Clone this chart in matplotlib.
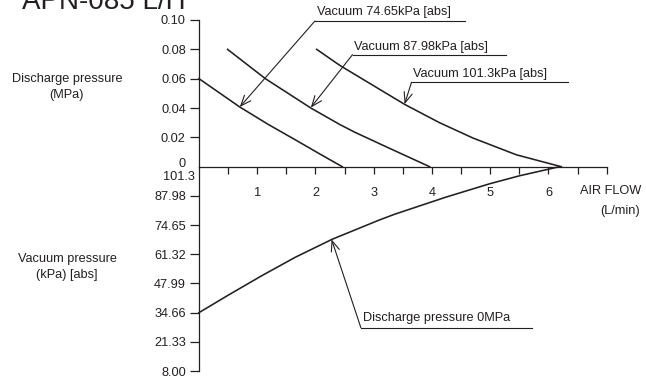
import matplotlib
matplotlib.use('Agg')
from matplotlib import pyplot as plt

plt.rcParams['font.family'] = ['Liberation Sans', 'DejaVu Sans']
plt.rcParams['font.size'] = 9.2

INK = '#231f20'

# discharge pressure (MPa) vs air flow (L/min) for each vacuum level
flow_7465 = [0.0, 0.70, 1.19, 1.65, 2.10, 2.46]
disch_7465 = [0.060, 0.0407, 0.0288, 0.0184, 0.0081, 0.0]

flow_8798 = [0.49, 1.14, 1.92, 2.42, 2.68, 3.30, 3.96]
disch_8798 = [0.080, 0.060, 0.040, 0.0287, 0.0234, 0.0120, 0.0]

flow_1013 = [2.02, 2.42, 3.53, 4.13, 4.70, 5.45, 6.22]
disch_1013 = [0.080, 0.069, 0.0425, 0.030, 0.0196, 0.0081, 0.0]

# vacuum pressure (kPa abs) vs air flow at discharge pressure 0MPa
flow_vac = [0.0, 0.50, 1.07, 1.65, 2.29, 3.10, 3.36, 4.24, 4.99, 5.51, 6.19]
vac_0mpa = [34.66, 42.6, 51.4, 59.9, 68.2, 77.0, 79.6, 87.4, 93.5, 97.2, 101.3]

disch_ticks = [0.02, 0.04, 0.06, 0.08, 0.10]
disch_labels = ['0.02', '0.04', '0.06', '0.08', '0.10']
vac_ticks = [87.98, 74.65, 61.32, 47.99, 34.66, 21.33, 8.00]
vac_labels = ['87.98', '74.65', '61.32', '47.99', '34.66', '21.33', '8.00']
flow_ticks = [0.5 * i for i in range(1, 15)]
flow_labels = [str(int(t)) if t == int(t) and t < 7 else '' for t in flow_ticks]

W, H = 646, 377
fig = plt.figure(figsize=(W / 100, H / 100), dpi=100)
ax = fig.add_axes([199 / W, 1 - 166.7 / H, 407.7 / W, (166.7 - 20) / H])
axv = fig.add_axes([199 / W, 1 - 371 / H, 407.7 / W, (371 - 166.7) / H])

line_kw = dict(color=INK, lw=1.15, clip_on=False)
ax.plot(flow_7465, disch_7465, **line_kw)
ax.plot(flow_8798, disch_8798, **line_kw)
ax.plot(flow_1013, disch_1013, **line_kw)
axv.plot(flow_vac, vac_0mpa, **line_kw)

ax.set_xlim(0, 7.0)
ax.set_ylim(0, 0.10)
axv.set_xlim(0, 7.0)
axv.set_ylim(8.00, 101.3)

for a in (ax, axv):
    a.patch.set_visible(False)
    for s in ('top', 'right'):
        a.spines[s].set_visible(False)
    a.spines['left'].set_color(INK)
    a.spines['left'].set_linewidth(0.9)
    a.tick_params(axis='y', direction='out', length=6.5, width=0.9, pad=3,
                  colors=INK, labelsize=9.2)
ax.spines['bottom'].set_color(INK)
ax.spines['bottom'].set_linewidth(0.9)
axv.spines['bottom'].set_visible(False)

ax.set_yticks(disch_ticks, disch_labels)
axv.set_yticks(vac_ticks, vac_labels)
ax.set_xticks(flow_ticks, flow_labels)
ax.tick_params(axis='x', direction='out', length=5, width=0.9, pad=9.3,
               colors=INK, labelsize=9.2)
axv.set_xticks([])

# axis-origin labels without tick marks
ax.annotate('0', xy=(0, 0), xycoords=('axes fraction', 'data'),
            xytext=(-13, 3), textcoords='offset pixels',
            ha='right', va='center', color=INK)
axv.annotate('101.3', xy=(0, 101.3), xycoords=('axes fraction', 'data'),
             xytext=(-4, -10.6), textcoords='offset pixels',
             ha='right', va='center', color=INK)

arrow = dict(arrowstyle='->,head_length=0.75,head_width=0.3', color=INK,
             lw=0.8, shrinkA=0, shrinkB=0, mutation_scale=10)


def callout(a, text, target, corner, line_end, text_y):
    a.annotate('', xy=target, xytext=corner, arrowprops=arrow,
               annotation_clip=False)
    a.plot([corner[0], line_end], [corner[1], corner[1]], color=INK,
           lw=0.8, clip_on=False)
    a.text(corner[0] + 0.03, text_y, text, ha='left', va='baseline',
           color=INK, fontsize=9.2, clip_on=False)


callout(ax, 'Vacuum 74.65kPa [abs]', (0.70, 0.0407), (1.99, 0.0993), 4.56, 0.1036)
callout(ax, 'Vacuum 87.98kPa [abs]', (1.92, 0.0403), (2.636, 0.0764), 5.278, 0.0798)
callout(ax, 'Vacuum 101.3kPa [abs]', (3.53, 0.0426), (3.648, 0.0575), 6.334, 0.0612)
callout(axv, 'Discharge pressure 0MPa', (2.276, 68.1), (2.779, 27.8), 5.72, 30.9)

fig.text(67 / W, 1 - 87 / H, 'Discharge pressure\n(MPa)', ha='center',
         va='center', multialignment='center', linespacing=1.45, color=INK)
fig.text(67 / W, 1 - 267.3 / H, 'Vacuum pressure\n(kPa) [abs]', ha='center',
         va='center', multialignment='center', linespacing=1.45, color=INK)
fig.text(641 / W, 1 - 190.7 / H, 'AIR FLOW', ha='right', va='center', color=INK)
fig.text(640 / W, 1 - 210.7 / H, '(L/min)', ha='right', va='center', color=INK)
# chart title, cut off at the top edge as in the source image
fig.text(22 / W, 1 - 9 / H, 'APN-085 L/H', ha='left', va='baseline',
         fontsize=20, color=INK)

fig.savefig('out.png', dpi=100)
